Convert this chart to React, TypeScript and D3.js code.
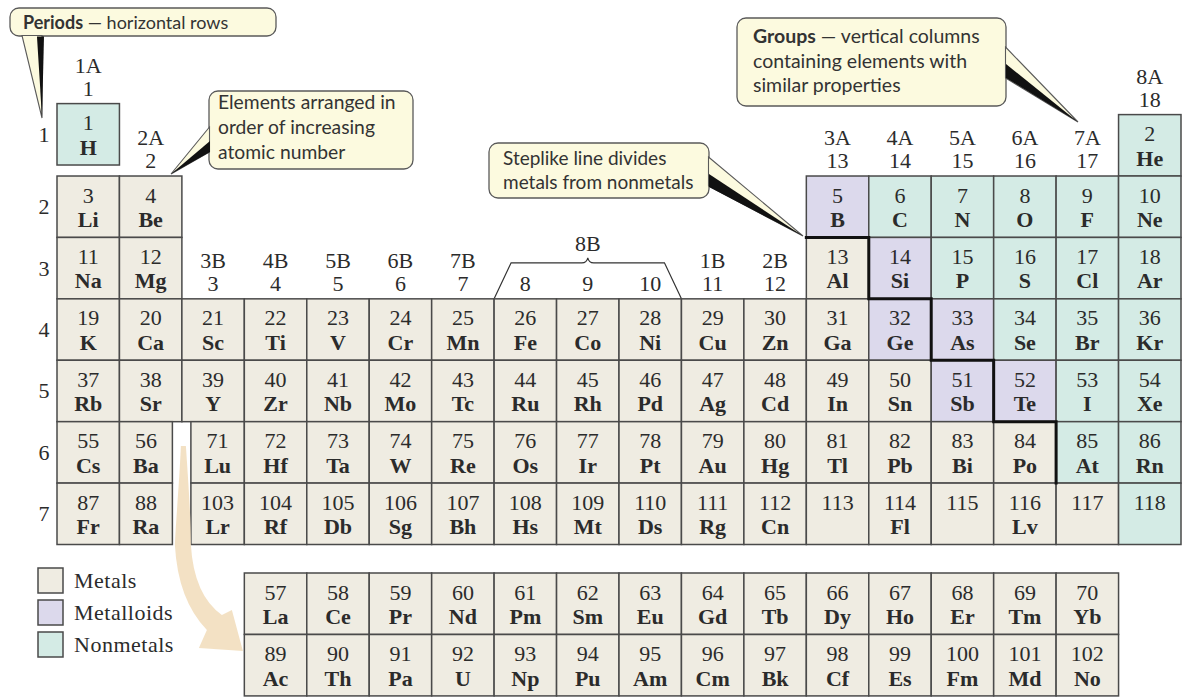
import React from "react";
import * as d3 from "d3";

// ---------- data ----------
const period1Symbols = ["H", "He"];
const period2Symbols = ["Li", "Be", "B", "C", "N", "O", "F", "Ne"];
const period3Symbols = ["Na", "Mg", "Al", "Si", "P", "S", "Cl", "Ar"];
const period4Symbols = ["K", "Ca", "Sc", "Ti", "V", "Cr", "Mn", "Fe", "Co", "Ni", "Cu", "Zn", "Ga", "Ge", "As", "Se", "Br", "Kr"];
const period5Symbols = ["Rb", "Sr", "Y", "Zr", "Nb", "Mo", "Tc", "Ru", "Rh", "Pd", "Ag", "Cd", "In", "Sn", "Sb", "Te", "I", "Xe"];
const period6Symbols = ["Cs", "Ba", "La", "Ce", "Pr", "Nd", "Pm", "Sm", "Eu", "Gd", "Tb", "Dy", "Ho", "Er", "Tm", "Yb", "Lu", "Hf", "Ta", "W", "Re", "Os", "Ir", "Pt", "Au", "Hg", "Tl", "Pb", "Bi", "Po", "At", "Rn"];
const period7Symbols = ["Fr", "Ra", "Ac", "Th", "Pa", "U", "Np", "Pu", "Am", "Cm", "Bk", "Cf", "Es", "Fm", "Md", "No", "Lr", "Rf", "Db", "Sg", "Bh", "Hs", "Mt", "Ds", "Rg", "Cn", "", "Fl", "", "Lv", "", ""];
const periodSymbols = [period1Symbols, period2Symbols, period3Symbols, period4Symbols, period5Symbols, period6Symbols, period7Symbols];

const metalloids = [5, 14, 32, 33, 51, 52];
const nonmetals = [1, 2, 6, 7, 8, 9, 10, 15, 16, 17, 18, 34, 35, 36, 53, 54, 85, 86, 118];

const groupLabelsTop = ["1A", "2A", "3B", "4B", "5B", "6B", "7B", "", "", "", "1B", "2B", "3A", "4A", "5A", "6A", "7A", "8A"];
const groupLabelsBottom = ["1", "2", "3", "4", "5", "6", "7", "8", "9", "10", "11", "12", "13", "14", "15", "16", "17", "18"];
const periodLabels = ["1", "2", "3", "4", "5", "6", "7"];

// steplike line corners: [group, period]
const stepCorners: [number, number][] = [[13, 3], [14, 3], [14, 4], [15, 4], [15, 5], [16, 5], [16, 6], [17, 6], [17, 7]];

const legendItems = ["Metals", "Metalloids", "Nonmetals"];

// ---------- style ----------
const COLORS: Record<string, string> = {
  metal: "#efece2",
  metalloid: "#dcd9ec",
  nonmetal: "#d4ebe5",
};
const STROKE = "#4a4a4a";
const TEXT = "#2b2b2b";
const SERIF = "'Liberation Serif', 'Times New Roman', serif";
const SANS = "Lato, 'Open Sans', sans-serif";
const CALLOUT_FILL = "#fcfadf";

// ---------- scales ----------
const xScale = d3.scaleBand<number>().domain(d3.range(1, 19)).range([57, 1181]);
const yScale = d3.scaleBand<number>().domain(d3.range(1, 8)).range([114.6, 544.5]);
const fRows = d3.scaleBand<number>().domain([6, 7]).range([573, 696]);
const cw = xScale.bandwidth();
const ch = yScale.bandwidth();
const H_SHIFT = -11;

type Cell = { z: number; sym: string; x: number; y: number; w: number; cat: string };

function category(z: number) {
  if (metalloids.includes(z)) return "metalloid";
  if (nonmetals.includes(z)) return "nonmetal";
  return "metal";
}

const cells: Cell[] = [];
let z = 1;
periodSymbols.forEach((syms, pi) => {
  const p = pi + 1;
  syms.forEach((sym, i) => {
    const o = i + 1;
    let g: number | null = null;
    let fIndex = -1;
    if (p === 1) g = o === 1 ? 1 : 18;
    else if (p <= 3) g = o <= 2 ? o : o + 10;
    else if (p <= 5) g = o;
    else {
      if (o <= 2) g = o;
      else if (o <= 16) fIndex = o - 3;
      else g = o - 14;
    }
    if (g !== null) {
      let x = xScale(g)!;
      let w = cw;
      let y = yScale(p)!;
      if (z === 1) y += H_SHIFT;
      if (p >= 6 && g === 2) w -= 9.5;
      if (p >= 6 && g === 3) {
        x += 9;
        w -= 9;
      }
      cells.push({ z, sym, x, y, w, cat: category(z) });
    } else {
      cells.push({ z, sym, x: xScale(4 + fIndex)!, y: fRows(p)!, w: cw, cat: category(z) });
    }
    z++;
  });
});

function groupTop(g: number) {
  return d3.min(cells.filter((c) => c.y < 560 && Math.abs(c.x - xScale(g)!) < 12), (c) => c.y)!;
}

// ---------- components ----------
function CellView({ c }: { c: Cell }) {
  const cx = c.x + c.w / 2;
  return (
    <g>
      <rect x={c.x} y={c.y} width={c.w} height={ch} fill={COLORS[c.cat]} stroke={STROKE} strokeWidth={1.5} />
      <text x={cx} y={c.y + 26.5} textAnchor="middle" fontFamily={SERIF} fontSize={22} fill={TEXT}>
        {c.z}
      </text>
      {c.sym && (
        <text x={cx} y={c.y + 51} textAnchor="middle" fontFamily={SERIF} fontSize={22} fontWeight="bold" fill={TEXT}>
          {c.sym}
        </text>
      )}
    </g>
  );
}

type CalloutProps = {
  box: [number, number, number, number];
  lines: React.ReactNode[];
  textX: number;
  firstBaseline: number;
  lineGap: number;
  fontSize: number;
  pointer: [number, number][];
  shadow: [number, number][];
};

function Callout({ box, lines, textX, firstBaseline, lineGap, fontSize, pointer, shadow }: CalloutProps) {
  const [x0, y0, x1, y1] = box;
  const poly = (pts: [number, number][]) => pts.map((p) => p.join(",")).join(" ");
  return (
    <g>
      <rect x={x0} y={y0} width={x1 - x0} height={y1 - y0} rx={9} fill={CALLOUT_FILL} stroke="#5a5a5a" strokeWidth={1.3} />
      <polygon points={poly(pointer)} fill={CALLOUT_FILL} stroke="#5a5a5a" strokeWidth={1.1} />
      <polygon points={poly(shadow)} fill="#111" />
      {lines.map((l, i) => (
        <text key={i} x={textX} y={firstBaseline + i * lineGap} fontFamily={SANS} fontSize={fontSize} fill="#333">
          {l}
        </text>
      ))}
    </g>
  );
}

export default function App() {
  const gx = xScale(3)!;
  const fTop = fRows(6)!;
  const x8 = xScale(8)!;
  const x10r = xScale(10)! + cw;
  const top4 = yScale(4)!;
  const bx = (x8 + x10r) / 2;
  const by = top4 - 36;

  const stepPath = d3.line()(stepCorners.map(([g, p]) => [xScale(g)!, yScale(p)!]))!;

  const arrow = [
    `M ${gx - 1} ${446}`,
    `L ${gx + 4} ${446}`,
    `C ${gx + 7} ${490} ${gx + 9} ${520} ${gx + 9} ${545}`,
    `Q ${gx + 12} ${fTop + 22} ${gx + 40} ${fTop + 42}`,
    `L ${gx + 50} ${fTop + 37}`,
    `L ${gx + 61} ${fTop + 78}`,
    `L ${gx + 17} ${fTop + 75}`,
    `L ${gx + 25} ${fTop + 57}`,
    `Q ${gx - 4} ${fTop + 27} ${gx - 7} ${545}`,
    `C ${gx - 6} ${520} ${gx - 3} ${490} ${gx - 1} ${446}`,
    "Z",
  ].join(" ");

  const hTop = yScale(1)! + H_SHIFT;

  return (
    <svg width={1183} height={699} style={{ position: "absolute", left: 0, top: 0, background: "#fff" }}>
      {/* period labels */}
      {periodLabels.map((l, i) => {
        const p = i + 1;
        const cy = p === 1 ? hTop + ch / 2 : yScale(p)! + ch / 2;
        return (
          <text key={l} x={44} y={cy + 7.5} textAnchor="middle" fontFamily={SERIF} fontSize={22} fill={TEXT}>
            {l}
          </text>
        );
      })}

      {/* group labels */}
      {groupLabelsBottom.map((l, i) => {
        const g = i + 1;
        const t = groupTop(g);
        const cx = xScale(g)! + cw / 2;
        return (
          <g key={l}>
            {groupLabelsTop[i] && (
              <text x={cx} y={t - 31} textAnchor="middle" fontFamily={SERIF} fontSize={22} fill={TEXT}>
                {groupLabelsTop[i]}
              </text>
            )}
            <text x={cx} y={t - 8} textAnchor="middle" fontFamily={SERIF} fontSize={22} fill={TEXT}>
              {l}
            </text>
          </g>
        );
      })}

      {/* 8B bracket */}
      <path
        d={`M ${x8} ${top4} L ${x8 + 17} ${by} L ${bx - 6} ${by} Q ${bx - 1} ${by} ${bx} ${by - 5} Q ${bx + 1} ${by} ${bx + 6} ${by} L ${x10r - 17} ${by} L ${x10r} ${top4}`}
        fill="none"
        stroke="#333"
        strokeWidth={1.2}
      />
      <text x={bx} y={by - 12} textAnchor="middle" fontFamily={SERIF} fontSize={22} fill={TEXT}>
        8B
      </text>

      {/* cells */}
      {cells.map((c) => (
        <CellView key={c.z} c={c} />
      ))}

      {/* steplike line */}
      <path d={stepPath} fill="none" stroke="#111" strokeWidth={3} strokeLinecap="square" />

      {/* arrow */}
      <path d={arrow} fill="#f2dfc1" opacity={0.95} />

      {/* legend */}
      {legendItems.map((l, i) => {
        const cat = ["metal", "metalloid", "nonmetal"][i];
        const y = 568 + i * 32;
        return (
          <g key={l}>
            <rect x={38} y={y} width={25} height={25} fill={COLORS[cat]} stroke={STROKE} strokeWidth={1.5} />
            <text x={74} y={y + 20} fontFamily={SERIF} fontSize={22} fill={TEXT} letterSpacing={0.5}>
              {l}
            </text>
          </g>
        );
      })}

      {/* callouts */}
      <Callout
        box={[10, 8, 276, 36]}
        lines={[
          <>
            <tspan fontWeight="bold">Periods</tspan> — horizontal rows
          </>,
        ]}
        textX={23}
        firstBaseline={29}
        lineGap={0}
        fontSize={18}
        pointer={[[22, 35.5], [42, 118], [42, 35.5]]}
        shadow={[[37, 36.5], [44, 36.5], [42, 118]]}
      />
      <Callout
        box={[209, 91, 413, 169]}
        lines={["Elements arranged in", "order of increasing", "atomic number"]}
        textX={218}
        firstBaseline={109}
        lineGap={25}
        fontSize={19.3}
        pointer={[[209.5, 127], [171, 174], [209.5, 152]]}
        shadow={[[210, 141], [210, 152], [171, 174]]}
      />
      <Callout
        box={[489, 143, 709, 198]}
        lines={["Steplike line divides", "metals from nonmetals"]}
        textX={503}
        firstBaseline={165}
        lineGap={24}
        fontSize={19}
        pointer={[[708.5, 157], [803, 236], [708.5, 186]]}
        shadow={[[709, 174], [709, 187], [803, 236]]}
      />
      <Callout
        box={[737, 18, 1006, 106]}
        lines={[
          <>
            <tspan fontWeight="bold">Groups</tspan> — vertical columns
          </>,
          "containing elements with",
          "similar properties",
        ]}
        textX={753}
        firstBaseline={43}
        lineGap={24.5}
        fontSize={19.5}
        pointer={[[1005.5, 47], [1078, 122], [1005.5, 78]]}
        shadow={[[1006, 64], [1006, 78], [1078, 122]]}
      />
    </svg>
  );
}
